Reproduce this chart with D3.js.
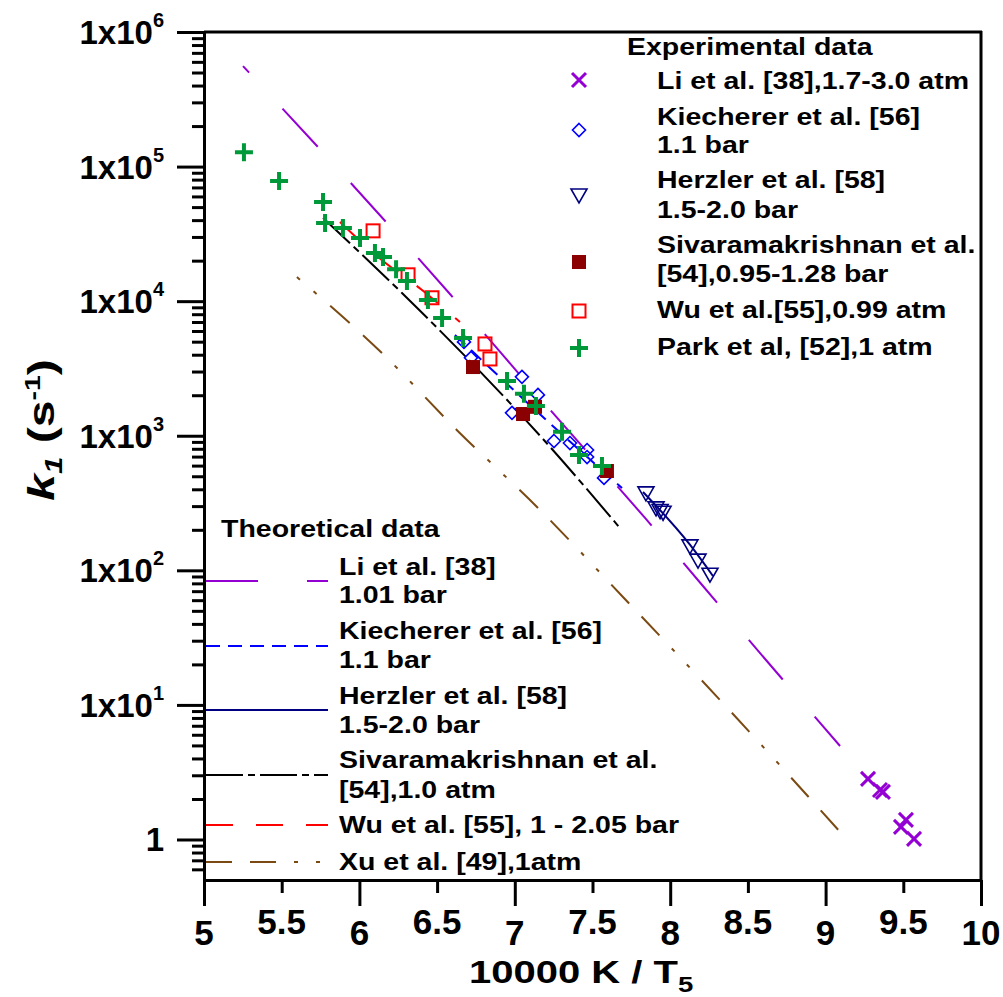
<!DOCTYPE html>
<html>
<head>
<meta charset="utf-8">
<script src="https://cdn.jsdelivr.net/npm/d3@7"></script>
<style>
  body { margin: 0; background: #fff; }
  svg { display: block; font-family: "Liberation Sans", Arial, sans-serif; font-weight: bold; }
</style>
</head>
<body>
<svg width="1003" height="997"></svg>
<script>
// experimental points: [10000/T5, k1 (s^-1)]
const liExp = [[9.273, 2.82], [9.350, 2.33], [9.369, 2.26], [9.485, 1.24], [9.517, 1.40], [9.569, 1.01]];
const kiecherExp = [[6.673, 4980], [6.718, 3790], [6.982, 1480], [7.046, 2740], [7.149, 2010],
	[7.252, 914], [7.355, 883], [7.465, 783], [7.465, 695], [7.574, 486]];
const herzlerExp = [[7.844, 376], [7.909, 291], [7.935, 278], [7.954, 270], [8.127, 152], [8.179, 119], [8.256, 93.5]];
const sivaExp = [[6.731, 3240], [7.053, 1450], [7.130, 1640], [7.593, 547]];
const wuExp = [[6.088, 33300], [6.313, 15700], [6.467, 10600], [6.808, 4810], [6.840, 3720]];
const parkExp = [[5.257, 128000], [5.483, 78200], [5.766, 54600], [5.779, 38100], [5.894, 35000],
	[6.004, 29500], [6.100, 22800], [6.152, 21300], [6.236, 17300], [6.306, 14100], [6.441, 10200],
	[6.532, 7500], [6.667, 5330], [6.950, 2550], [7.059, 2050], [7.136, 1660], [7.304, 1070],
	[7.413, 719], [7.561, 597]];

// theoretical curves
const liTh = [[5.251, 558000], [5.933, 78200], [6.577, 11500], [7.207, 1660], [7.838, 245], [8.462, 34.8], [9.093, 4.95]];
const kiecherTh = [[6.615, 5610], [7.130, 1560], [7.690, 409]];
const herzlerTh = [[7.825, 382], [8.127, 155], [8.275, 90.8]];
const sivaTh = [[5.766, 41500], [6.274, 11500], [7.227, 826], [7.671, 210]];
const wuTh = [[5.875, 38700], [6.120, 21300], [6.403, 12100], [6.647, 7000]];
const xuTh = [[5.598, 15100], [6.145, 4120], [6.628, 1100], [7.162, 281], [7.696, 63.4], [8.333, 10.5], [9.093, 1.14]];

const expLabels = [["Li et al. [38],1.7-3.0 atm"], ["Kiecherer et al. [56]", "1.1 bar"],
	["Herzler et al. [58]", "1.5-2.0 bar"], ["Sivaramakrishnan et al.", "[54],0.95-1.28 bar"],
	["Wu et al.[55],0.99 atm"], ["Park et al, [52],1 atm"]];
const thLabels = [["Li et al. [38]", "1.01 bar"], ["Kiecherer et al. [56]", "1.1 bar"],
	["Herzler et al. [58]", "1.5-2.0 bar"], ["Sivaramakrishnan et al.", "[54],1.0 atm"],
	["Wu et al. [55], 1 - 2.05 bar"], ["Xu et al. [49],1atm"]];

const xMajor = [5, 6, 7, 8, 9, 10];
const xMinor = [5.5, 6.5, 7.5, 8.5, 9.5];
const yMajorExp = [0, 1, 2, 3, 4, 5, 6];

const purple = "#9400d3", blue = "#0000ff", navy = "#000080", darkred = "#8b0000",
	red = "#ff0000", green = "#00993a", brown = "#7b4a12";

var svg = d3.select("svg");

var x = d3.scaleLinear().domain([5, 10]).range([204, 981]);
var y = d3.scaleLog().domain([0.5, 1e6]).range([880, 32]);

// theoretical lines
var line = d3.line()
	.x(function(d) { return x(d[0]); })
	.y(function(d) { return y(d[1]); })
	.curve(d3.curveMonotoneX);

var thStyles = [
	{data: liTh, color: purple, dash: "52,49", offset: 43},
	{data: kiecherTh, color: blue, dash: "14,8", offset: 0},
	{data: herzlerTh, color: navy, dash: null, offset: 0},
	{data: sivaTh, color: "#000", dash: "37,5,7,5", offset: 0},
	{data: wuTh, color: red, dash: "27,23", offset: 0},
	{data: xuTh, color: brown, dash: "26,18,26,18,4,18,4,18", offset: 88}
];

thStyles.forEach(function(s) {
	svg.append("path")
		.datum(s.data)
		.attr("fill", "none")
		.attr("stroke", s.color)
		.attr("stroke-width", 2)
		.attr("stroke-dasharray", s.dash)
		.attr("stroke-dashoffset", s.offset)
		.attr("d", line);
});

// marker shapes
function drawMarker(g, type, cx, cy) {
	if (type == "x") {
		g.append("path")
			.attr("d", "M" + (cx - 7) + "," + (cy - 7) + "L" + (cx + 7) + "," + (cy + 7) +
				"M" + (cx - 7) + "," + (cy + 7) + "L" + (cx + 7) + "," + (cy - 7))
			.attr("stroke", purple).attr("stroke-width", 3).attr("fill", "none");
	} else if (type == "diamond") {
		g.append("path")
			.attr("d", "M" + cx + "," + (cy - 6.5) + "L" + (cx + 6.5) + "," + cy + "L" + cx + "," + (cy + 6.5) +
				"L" + (cx - 6.5) + "," + cy + "Z")
			.attr("stroke", blue).attr("stroke-width", 1.6).attr("fill", "none");
	} else if (type == "tri") {
		g.append("path")
			.attr("d", "M" + (cx - 8) + "," + (cy - 6) + "L" + (cx + 8) + "," + (cy - 6) + "L" + cx + "," + (cy + 8) + "Z")
			.attr("stroke", navy).attr("stroke-width", 1.6).attr("fill", "none");
	} else if (type == "fsq") {
		g.append("rect")
			.attr("x", cx - 7).attr("y", cy - 7).attr("width", 14).attr("height", 14)
			.attr("fill", darkred);
	} else if (type == "osq") {
		g.append("rect")
			.attr("x", cx - 6.5).attr("y", cy - 6.5).attr("width", 13).attr("height", 13)
			.attr("fill", "none").attr("stroke", red).attr("stroke-width", 2);
	} else if (type == "plus") {
		g.append("path")
			.attr("d", "M" + (cx - 9) + "," + cy + "L" + (cx + 9) + "," + cy +
				"M" + cx + "," + (cy - 9) + "L" + cx + "," + (cy + 9))
			.attr("stroke", green).attr("stroke-width", 4).attr("fill", "none");
	}
}

var expSets = [
	{data: kiecherExp, type: "diamond"},
	{data: herzlerExp, type: "tri"},
	{data: sivaExp, type: "fsq"},
	{data: wuExp, type: "osq"},
	{data: liExp, type: "x"},
	{data: parkExp, type: "plus"}
];

var marks = svg.append("g");
expSets.forEach(function(s) {
	s.data.forEach(function(d) {
		drawMarker(marks, s.type, x(d[0]), y(d[1]));
	});
});

// axes
var yMinor = [];
[-1, 0, 1, 2, 3, 4, 5].forEach(function(e) {
	for (var m = 2; m <= 9; m++) {
		var v = m * Math.pow(10, e);
		if (v > 0.55 && v < 1e6) yMinor.push(v);
	}
});

function styleAxis(g) {
	g.selectAll("path, line").attr("stroke", "#000").attr("stroke-width", 3);
}

svg.append("g")
	.attr("transform", "translate(204,0)")
	.call(d3.axisLeft(y).tickValues(yMinor).tickSize(12).tickSizeOuter(0).tickFormat(""))
	.call(styleAxis);
svg.append("g")
	.attr("transform", "translate(204,0)")
	.call(d3.axisLeft(y).tickValues(yMajorExp.map(function(e) { return Math.pow(10, e); }))
		.tickSize(27).tickSizeOuter(0).tickFormat(""))
	.call(styleAxis);

svg.append("g")
	.attr("transform", "translate(0,880)")
	.call(d3.axisBottom(x).tickValues(xMinor).tickSize(13).tickSizeOuter(0).tickFormat(""))
	.call(styleAxis);
svg.append("g")
	.attr("transform", "translate(0,880)")
	.call(d3.axisBottom(x).tickValues(xMajor).tickSize(26).tickSizeOuter(0).tickFormat(""))
	.call(styleAxis);

// frame top / right
svg.append("line").attr("x1", 204).attr("x2", 982).attr("y1", 32).attr("y2", 32)
	.attr("stroke", "#000").attr("stroke-width", 3);
svg.append("line").attr("x1", 981).attr("x2", 981).attr("y1", 31).attr("y2", 881)
	.attr("stroke", "#000").attr("stroke-width", 3);

// y tick labels
yMajorExp.forEach(function(e) {
	var t = svg.append("text")
		.attr("x", 164)
		.attr("y", y(Math.pow(10, e)) + 12)
		.attr("text-anchor", "end")
		.attr("font-size", 33);
	if (e == 0) {
		t.text("1");
	} else {
		t.append("tspan").text("1x10");
		t.append("tspan").attr("dy", -17).attr("font-size", 20).text(e);
	}
});

// x tick labels, half values sit a little higher
xMajor.concat(xMinor).forEach(function(v) {
	svg.append("text")
		.attr("x", x(v))
		.attr("y", Number.isInteger(v) ? 945 : 934)
		.attr("text-anchor", "middle")
		.attr("font-size", 35)
		.text(v);
});

// axis titles
var xt = svg.append("text")
	.attr("transform", "translate(469,983) scale(1.25,1)")
	.attr("font-size", 32);
xt.append("tspan").text("10000 K / T");
xt.append("tspan").attr("dy", 9).attr("font-size", 22).text("5");

var yt = svg.append("text")
	.attr("transform", "translate(54,430) rotate(-90) scale(1.3,1)")
	.attr("text-anchor", "middle")
	.attr("font-size", 37);
yt.append("tspan").attr("font-style", "italic").text("k");
yt.append("tspan").attr("font-style", "italic").attr("font-size", 24).attr("dy", 8).text("1");
yt.append("tspan").attr("dy", -8).text(" (s");
yt.append("tspan").attr("font-size", 22).attr("dy", -14).text("-1");
yt.append("tspan").attr("dy", 14).text(")");

// legends
function legendText(x0, yb, s) {
	svg.append("text")
		.attr("transform", "translate(" + x0 + "," + yb + ") scale(1.24,1)")
		.attr("font-size", 23)
		.text(s);
}

legendText(627, 55, "Experimental data");
var expMarkerY = [80, 130, 195, 262, 311, 348];
var expTextY = [[89], [125, 153], [188, 218], [253, 282], [318], [355]];
var expTypes = ["x", "diamond", "tri", "fsq", "osq", "plus"];
expLabels.forEach(function(lines, i) {
	drawMarker(svg, expTypes[i], 579, expMarkerY[i]);
	lines.forEach(function(s, j) { legendText(657, expTextY[i][j], s); });
});

legendText(221, 537, "Theoretical data");
var thLineY = [581, 646, 710, 775, 825, 862];
var thTextY = [[575, 603], [639, 668], [704, 733], [768, 798], [833], [870]];
thLabels.forEach(function(lines, i) {
	svg.append("line")
		.attr("x1", 206).attr("x2", 328)
		.attr("y1", thLineY[i]).attr("y2", thLineY[i])
		.attr("stroke", thStyles[i].color)
		.attr("stroke-width", 2)
		.attr("stroke-dasharray", thStyles[i].dash);
	lines.forEach(function(s, j) { legendText(339, thTextY[i][j], s); });
});
</script>
</body>
</html>
